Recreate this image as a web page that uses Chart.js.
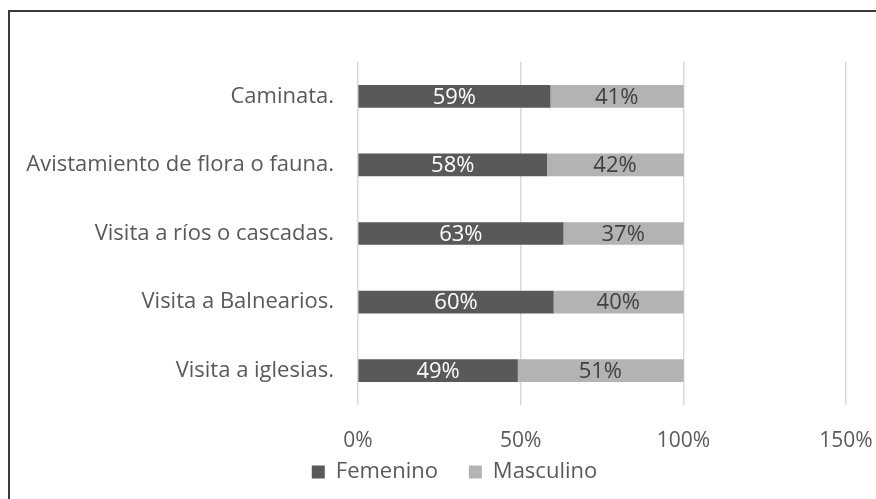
<!DOCTYPE html>
<html>
<head>
<meta charset="utf-8">
<script src="https://cdn.jsdelivr.net/npm/chart.js@4"></script>
<style>
  html, body { margin: 0; padding: 0; background: #fff; }
  #wrap { position: relative; width: 876px; height: 499px; overflow: hidden; }
  #frame { position: absolute; left: 8px; top: 10px; width: 900px; height: 600px; border: 2px solid #3a3a3a; box-sizing: border-box; }
  canvas { position: absolute; left: 0; top: 0; }
</style>
</head>
<body>
<div id="wrap">
  <div id="frame"></div>
  <canvas id="chart" width="876" height="499"></canvas>
</div>
<script>
// Activity categories and share by gender
const categories = ['Caminata.', 'Avistamiento de flora o fauna.', 'Visita a ríos o cascadas.', 'Visita a Balnearios.', 'Visita a iglesias.'];
const femenino = [59, 58, 63, 60, 49];
const masculino = [41, 42, 37, 40, 51];
const xTicks = [0, 50, 100, 150];

const FONT = '"Open Sans", sans-serif';

// draws the % label in the middle of every bar
const barLabels = {
    id: 'barLabels',
    afterDatasetsDraw(chart) {
        const ctx = chart.ctx;
        ctx.save();
        ctx.font = '22px ' + FONT;
        ctx.textAlign = 'center';
        ctx.textBaseline = 'middle';
        chart.data.datasets.forEach((ds, i) => {
            const meta = chart.getDatasetMeta(i);
            meta.data.forEach((bar, j) => {
                const p = bar.getProps(['x', 'y', 'base'], true);
                ctx.fillStyle = i === 0 ? '#ffffff' : '#404040';
                ctx.fillText(ds.data[j] + '%', (p.x + p.base) / 2, p.y + 1);
            });
        });
        ctx.restore();
    }
};

// the legend in the source sits a bit right of the canvas centre
const legendShift = {
    id: 'legendShift',
    afterLayout(chart) {
        if (chart.legend) chart.legend.left = 63;
    }
};

new Chart(document.getElementById('chart').getContext('2d'), {
    type: 'bar',
    data: {
        labels: categories,
        datasets: [{
            label: 'Femenino',
            data: femenino,
            backgroundColor: '#595959',
            barThickness: 22
        }, {
            label: 'Masculino',
            data: masculino,
            backgroundColor: '#b3b3b3',
            barThickness: 22
        }]
    },
    options: {
        indexAxis: 'y',
        responsive: false,
        animation: false,
        layout: {
            padding: { top: 62, right: 30, left: 0, bottom: 6 }
        },
        scales: {
            x: {
                stacked: true,
                min: 0,
                max: 150,
                border: { display: false },
                grid: { color: '#d9d9d9', lineWidth: 1.5, drawTicks: false },
                afterBuildTicks(scale) {
                    scale.ticks = xTicks.map(v => ({ value: v }));
                },
                afterFit(scale) {
                    scale.paddingLeft = 0;
                    scale.paddingRight = 0;
                    scale.height = 48;
                },
                ticks: {
                    color: '#595959',
                    font: { family: FONT, size: 21 },
                    padding: 23,
                    maxRotation: 0,
                    callback: v => v + '%'
                }
            },
            y: {
                stacked: true,
                border: { display: false },
                grid: { display: false },
                afterFit(scale) {
                    scale.width = 358;
                    scale.paddingTop = 0;
                    scale.paddingBottom = 0;
                },
                ticks: {
                    color: '#595959',
                    font: { family: FONT, size: 22 },
                    padding: 16
                }
            }
        },
        plugins: {
            legend: {
                position: 'bottom',
                labels: {
                    color: '#595959',
                    font: { family: FONT, size: 22 },
                    boxWidth: 13,
                    boxHeight: 13,
                    padding: 8,
                    generateLabels(chart) {
                        const items = Chart.defaults.plugins.legend.labels.generateLabels(chart);
                        // wider gap after the first entry, as in the source
                        items[0].text = items[0].text + '    ';
                        return items;
                    }
                }
            },
            tooltip: { enabled: false }
        }
    },
    plugins: [barLabels, legendShift]
});
</script>
</body>
</html>
